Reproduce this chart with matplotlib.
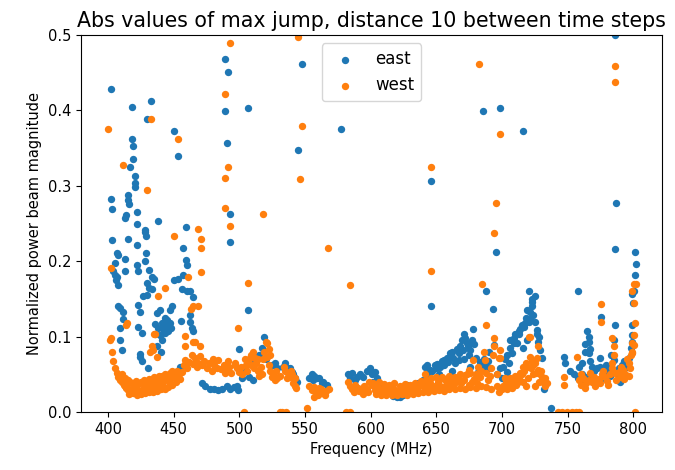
import matplotlib
matplotlib.use("Agg")
import matplotlib.pyplot as plt

# Max-jump magnitude per frequency channel (MHz, normalized), east polarisation
east_freq = [
    402.0, 432.8, 418.0, 429.5, 450.5, 418.0, 419.3, 453.6, 419.3, 416.8, 420.6, 420.6, 420.6,
    402.3, 415.5, 415.5, 416.0, 403.3, 421.8, 413.0, 414.0, 421.8, 437.8, 428.2, 459.2, 402.8,
    415.0, 428.2, 428.7, 421.8, 457.4, 406.6, 407.9, 429.0, 428.2, 413.0, 421.8, 459.4, 460.0,
    405.3, 404.0, 405.5, 407.0, 406.0, 413.0, 423.0, 431.2, 433.8, 434.8, 457.4, 450.5, 453.6,
    407.9, 429.5, 431.2, 433.3, 456.2, 460.0, 426.9, 429.5, 465.0, 462.5, 407.4, 409.1, 423.0,
    448.5, 447.2, 411.7, 424.4, 437.1, 439.6, 462.5, 411.7, 435.8, 440.9, 444.7, 447.2, 455.6,
    462.5, 409.1, 423.0, 425.7, 463.8, 465.0, 435.8, 439.6, 441.4, 409.1, 410.4, 437.1, 440.4,
    424.4, 453.6, 442.0, 438.0, 443.0, 445.0, 446.0, 443.0, 448.0, 424.4, 425.7, 430.7, 454.9,
    471.4, 474.0, 477.7, 481.0, 484.0, 487.0, 490.4, 493.0, 496.0, 498.0, 499.3, 489.1, 491.7,
    489.1, 506.4, 490.4, 493.0, 493.0, 506.4, 499.8, 519.1, 507.0, 510.7, 509.0, 512.0, 524.7,
    528.5, 537.4, 540.0, 538.7, 541.2,
    545.0, 547.6, 556.4, 559.0, 562.8, 564.0, 566.6, 577.5, 584.4, 588.2, 589.5, 594.5, 599.6,
    600.9, 603.4, 605.0, 602.0, 606.0, 610.0, 617.0, 619.9, 622.0, 625.0, 628.0, 632.0, 636.0,
    640.0,
    641.5, 642.8, 645.3, 645.9, 645.9, 649.1, 650.4, 654.2, 655.5, 658.0, 660.6, 661.8, 665.7,
    666.9, 668.2, 669.5, 670.7, 672.0, 673.3, 674.6, 675.8, 678.3, 682.1, 684.7, 685.2, 687.2,
    688.0, 689.7, 692.8, 694.3, 695.6, 698.2, 698.2, 652.0, 662.0,
    703.8, 705.0, 707.6, 708.8, 710.1, 706.3, 711.4, 712.6, 715.7, 716.4, 717.7, 720.2, 720.2,
    721.5, 721.5, 722.8, 722.8, 724.0, 725.3, 726.6, 726.6, 727.8, 729.1, 730.4, 731.7, 737.5,
    700.0, 714.0,
    747.0, 747.7, 757.9, 760.8, 763.4, 764.7, 764.7, 765.9, 765.9, 767.2, 767.2, 768.5, 774.8,
    774.8, 775.6, 785.0, 785.0, 785.8, 785.8, 787.0, 786.0, 790.0, 791.4, 795.2, 799.0, 799.5,
    799.0, 799.0, 799.0, 800.3, 801.5, 802.0, 801.5, 752.0, 755.0, 770.0, 780.0, 758.0, 762.0,
    778.0, 782.0, 788.0, 792.0,
]
east_mag = [
    0.428, 0.412, 0.405, 0.389, 0.373, 0.362, 0.353, 0.339, 0.336, 0.325, 0.313, 0.304, 0.298,
    0.283, 0.288, 0.281, 0.276, 0.269, 0.265, 0.258, 0.261, 0.249, 0.254, 0.241, 0.245, 0.228,
    0.229, 0.239, 0.233, 0.221, 0.218, 0.211, 0.208, 0.211, 0.200, 0.203, 0.195, 0.202, 0.195,
    0.197, 0.187, 0.182, 0.179, 0.175, 0.187, 0.187, 0.188, 0.179, 0.176, 0.182, 0.175, 0.176,
    0.168, 0.171, 0.165, 0.163, 0.163, 0.161, 0.154, 0.155, 0.153, 0.160, 0.141, 0.138, 0.142,
    0.140, 0.135, 0.133, 0.133, 0.131, 0.135, 0.129, 0.123, 0.117, 0.118, 0.122, 0.118, 0.121,
    0.120, 0.112, 0.113, 0.105, 0.111, 0.107, 0.104, 0.102, 0.095, 0.095, 0.082, 0.087, 0.080,
    0.077, 0.049, 0.110, 0.112, 0.125, 0.115, 0.108, 0.105, 0.112, 0.073, 0.067, 0.058, 0.060,
    0.038, 0.035, 0.031, 0.030, 0.029, 0.031, 0.034, 0.030, 0.033, 0.034, 0.029, 0.468, 0.451,
    0.399, 0.403, 0.357, 0.262, 0.225, 0.135, 0.083, 0.099, 0.047, 0.042, 0.072, 0.068, 0.062,
    0.058, 0.058, 0.053, 0.058, 0.051,
    0.348, 0.461, 0.042, 0.045, 0.038, 0.040, 0.036, 0.375, 0.045, 0.042, 0.047, 0.047, 0.059,
    0.051, 0.053, 0.045, 0.040, 0.038, 0.036, 0.021, 0.020, 0.020, 0.022, 0.036, 0.034, 0.038,
    0.042,
    0.060, 0.062, 0.056, 0.140, 0.306, 0.062, 0.064, 0.067, 0.069, 0.071, 0.078, 0.080, 0.084,
    0.069, 0.087, 0.095, 0.104, 0.098, 0.091, 0.076, 0.060, 0.110, 0.053, 0.058, 0.399, 0.061,
    0.161, 0.067, 0.137, 0.089, 0.212, 0.058, 0.403, 0.050, 0.055,
    0.053, 0.065, 0.078, 0.091, 0.104, 0.095, 0.091, 0.104, 0.373, 0.113, 0.118, 0.120, 0.161,
    0.124, 0.133, 0.140, 0.146, 0.129, 0.154, 0.109, 0.104, 0.093, 0.082, 0.071, 0.031, 0.005,
    0.045, 0.110,
    0.073, 0.065, 0.161, 0.051, 0.080, 0.107, 0.047, 0.093, 0.078, 0.084, 0.067, 0.060, 0.071,
    0.060, 0.126, 0.095, 0.069, 0.115, 0.216, 0.277, 0.500, 0.040, 0.062, 0.060, 0.157, 0.144,
    0.093, 0.115, 0.102, 0.161, 0.212, 0.196, 0.182, 0.055, 0.050, 0.055, 0.055, 0.045, 0.040,
    0.045, 0.048, 0.050, 0.045,
]

# East channels in the densely populated low-magnitude floor
east_floor_freq = [
    502.0, 505.0, 515.0, 517.0, 520.0, 527.0, 533.0, 535.0, 542.0, 544.0,
    553.0, 555.0, 557.0, 561.0, 583.0, 586.0, 592.0, 597.0, 600.0,
    644.0, 647.0, 650.0, 653.0, 656.0, 659.0, 663.0, 664.0, 667.0, 670.0, 671.0, 674.0, 676.0,
    677.0, 679.0, 680.0, 683.0, 686.0, 690.0, 691.0, 696.0,
    701.0, 702.0, 704.0, 706.0, 709.0, 713.0, 715.0, 718.0, 719.0, 723.0, 725.0, 728.0, 719.0,
    716.0,
    759.0, 761.0, 763.0, 766.0, 772.0, 779.0, 783.0, 789.0, 793.0, 797.0, 798.0,
]
east_floor_mag = [
    0.045, 0.055, 0.075, 0.085, 0.070, 0.065, 0.060, 0.065, 0.045, 0.040,
    0.045, 0.050, 0.048, 0.045, 0.050, 0.052, 0.050, 0.055, 0.055,
    0.050, 0.055, 0.058, 0.060, 0.062, 0.066, 0.072, 0.065, 0.078, 0.082, 0.070, 0.088, 0.082,
    0.095, 0.090, 0.072, 0.066, 0.070, 0.080, 0.058, 0.050,
    0.060, 0.070, 0.075, 0.085, 0.098, 0.108, 0.115, 0.125, 0.135, 0.150, 0.120, 0.100, 0.095,
    0.085,
    0.060, 0.065, 0.090, 0.100, 0.058, 0.062, 0.075, 0.058, 0.068, 0.072, 0.085,
]

# Same quantity for the west polarisation
west_freq = [
    493.0, 489.1, 432.8, 400.3, 453.6, 411.2, 491.7, 489.1, 429.5, 489.1, 518.3, 493.0, 468.3,
    450.5, 470.9, 470.9, 402.3, 470.9, 460.7, 443.4, 506.4, 437.8, 463.2, 468.3, 413.5, 499.3,
    458.7, 435.3, 402.3, 403.3, 401.5, 521.0, 465.0, 470.1, 433.8, 432.3, 458.7, 466.3, 465.0,
    435.8, 434.5, 437.1, 414.2,
    404.0, 405.3, 406.5, 407.9, 409.0, 410.4, 412.0, 413.0, 414.0, 415.5, 417.0, 418.5, 420.6,
    422.0, 423.5, 425.7, 427.0, 428.5, 430.7, 432.0, 433.5, 435.8, 437.0, 438.5, 440.9, 442.0,
    443.5, 446.0, 447.5, 449.0, 451.0, 452.5, 454.0, 456.2, 457.5, 458.7, 460.0, 461.5, 463.8,
    465.0, 466.5, 468.0, 468.8, 470.0, 471.5, 473.0, 475.0, 477.0, 479.0, 481.0, 484.0, 486.0,
    488.0, 490.0, 492.0, 494.0, 496.8, 498.5, 500.0, 501.3, 416.0, 421.0, 426.0, 431.0, 436.0,
    441.0, 480.0, 483.0, 489.0, 491.0, 497.0,
    503.8, 505.0, 507.0, 508.5, 510.7, 512.0, 513.0, 514.3, 515.0, 516.5, 518.0, 520.2, 522.2,
    521.0, 522.2, 523.5, 524.7, 527.2, 529.0, 531.0, 532.3, 535.6, 535.0, 537.0, 538.7, 540.0,
    541.2, 542.0, 543.5,
    545.0, 547.6, 546.3, 551.4, 555.1, 556.5, 558.0, 560.2, 562.0, 564.0, 566.0, 567.4, 581.3,
    584.4, 584.4, 584.4, 586.0, 588.0, 590.0, 593.3, 595.0, 597.0, 600.9, 599.0,
    603.0, 605.0, 607.0, 609.0, 611.0, 613.0, 615.0, 617.0, 619.0, 621.0, 623.0, 625.0, 627.0,
    629.0, 631.0, 633.0, 635.0, 637.0, 639.0, 641.5, 641.0, 643.0, 645.0, 645.9, 645.9, 647.0,
    649.0, 651.0, 653.0, 654.2, 655.0, 657.0, 659.0, 661.0, 663.0, 665.0, 667.0, 669.0, 671.0,
    673.3, 674.6, 675.0, 677.0, 678.3, 679.0, 681.0, 682.1, 682.7, 683.0, 685.0, 686.0, 687.2,
    687.8, 689.0, 691.0, 692.8, 693.6, 693.6, 694.3, 695.6, 696.0, 697.4, 698.2, 698.7, 698.7,
    700.0,
    701.0, 703.0, 705.0, 707.0, 709.0, 711.0, 713.0, 715.0, 717.0, 719.0, 720.2, 721.5, 721.5,
    722.8, 724.0, 725.3, 726.6, 727.8, 727.8, 729.0, 730.4, 731.5, 732.5, 716.0, 720.0, 724.0,
    728.0,
    743.0, 746.0, 749.5, 753.0, 756.0, 758.3, 747.0, 747.0, 757.2, 758.3, 760.0, 762.0, 764.0,
    766.0, 768.5, 770.0, 772.0, 774.0, 775.6, 775.6, 776.0, 778.7, 780.0, 782.0, 783.8, 783.8,
    785.0, 785.0, 785.8, 785.8, 786.0, 788.9, 790.0, 792.0, 794.0, 796.6, 797.5, 799.0, 799.0,
    799.0, 799.0, 800.3, 800.3, 800.3, 800.3, 801.5, 802.0, 801.5,
]
west_mag = [
    0.489, 0.422, 0.389, 0.376, 0.362, 0.327, 0.325, 0.311, 0.294, 0.271, 0.262, 0.247, 0.243,
    0.233, 0.230, 0.217, 0.191, 0.186, 0.179, 0.165, 0.171, 0.154, 0.137, 0.140, 0.115, 0.112,
    0.101, 0.103, 0.098, 0.080, 0.095, 0.091, 0.093, 0.087, 0.087, 0.080, 0.088, 0.093, 0.140,
    0.104, 0.082, 0.073, 0.118,
    0.067, 0.058, 0.052, 0.047, 0.043, 0.040, 0.036, 0.034, 0.032, 0.029, 0.028, 0.030, 0.027,
    0.030, 0.026, 0.029, 0.033, 0.028, 0.031, 0.035, 0.030, 0.036, 0.032, 0.038, 0.040, 0.035,
    0.043, 0.042, 0.038, 0.046, 0.047, 0.055, 0.050, 0.053, 0.062, 0.069, 0.058, 0.066, 0.076,
    0.064, 0.071, 0.060, 0.065, 0.074, 0.062, 0.068, 0.058, 0.065, 0.055, 0.062, 0.069, 0.057,
    0.063, 0.055, 0.060, 0.052, 0.065, 0.058, 0.053, 0.060, 0.038, 0.036, 0.040, 0.042, 0.045,
    0.048, 0.070, 0.058, 0.052, 0.068, 0.062,
    0.000, 0.062, 0.070, 0.075, 0.080, 0.072, 0.065, 0.055, 0.048, 0.060, 0.070, 0.093, 0.084,
    0.073, 0.062, 0.055, 0.047, 0.042, 0.045, 0.000, 0.000, 0.000, 0.055, 0.052, 0.047, 0.050,
    0.038, 0.034, 0.032,
    0.498, 0.379, 0.309, 0.005, 0.029, 0.033, 0.027, 0.023, 0.030, 0.025, 0.028, 0.218, 0.000,
    0.000, 0.168, 0.034, 0.030, 0.036, 0.032, 0.031, 0.035, 0.030, 0.036, 0.040,
    0.029, 0.034, 0.031, 0.027, 0.033, 0.029, 0.027, 0.032, 0.028, 0.026, 0.031, 0.028, 0.033,
    0.029, 0.027, 0.032, 0.030, 0.034, 0.036, 0.051, 0.030, 0.034, 0.038, 0.187, 0.325, 0.031,
    0.034, 0.040, 0.035, 0.047, 0.032, 0.036, 0.038, 0.042, 0.035, 0.040, 0.044, 0.038, 0.042,
    0.051, 0.056, 0.036, 0.040, 0.069, 0.044, 0.038, 0.060, 0.461, 0.046, 0.170, 0.080, 0.069,
    0.115, 0.042, 0.048, 0.076, 0.238, 0.088, 0.098, 0.277, 0.035, 0.071, 0.369, 0.082, 0.071,
    0.030,
    0.035, 0.040, 0.034, 0.038, 0.042, 0.036, 0.045, 0.050, 0.055, 0.060, 0.099, 0.073, 0.100,
    0.068, 0.062, 0.065, 0.071, 0.087, 0.056, 0.050, 0.047, 0.040, 0.035, 0.040, 0.045, 0.050,
    0.040,
    0.000, 0.000, 0.000, 0.000, 0.000, 0.000, 0.047, 0.036, 0.073, 0.042, 0.036, 0.045, 0.038,
    0.043, 0.040, 0.046, 0.038, 0.044, 0.143, 0.120, 0.050, 0.047, 0.041, 0.050, 0.065, 0.098,
    0.087, 0.076, 0.459, 0.438, 0.052, 0.053, 0.046, 0.056, 0.050, 0.065, 0.058, 0.078, 0.080,
    0.091, 0.161, 0.170, 0.145, 0.102, 0.089, 0.118, 0.170, 0.000,
]

# West channels in the densely populated low-magnitude floor
west_floor_freq = [
    411.0, 413.0, 415.0, 417.0, 419.0, 421.0, 423.0, 425.0, 427.0, 429.0, 431.0, 433.0, 435.0,
    437.0, 439.0, 441.0, 443.0, 445.0, 447.0, 449.0,
    416.0, 419.0, 422.0, 425.0, 428.0, 431.0, 434.0, 437.0, 440.0, 443.0, 446.0, 449.0, 452.0,
    455.0,
    502.0, 504.0, 506.0, 509.0, 511.0, 514.0, 517.0, 519.0, 523.0, 526.0, 528.0, 531.0, 534.0,
    536.0, 539.0, 542.0,
    553.0, 557.0, 561.0, 565.0, 568.0, 583.0, 587.0, 591.0, 594.0, 598.0,
    602.0, 606.0, 610.0, 614.0, 618.0, 622.0, 626.0, 630.0, 634.0, 638.0, 642.0, 646.0, 650.0,
    656.0, 660.0, 664.0, 668.0, 672.0, 676.0, 680.0, 684.0, 688.0, 692.0, 696.0,
    604.0, 608.0, 612.0, 616.0, 620.0, 624.0, 628.0, 632.0, 636.0, 640.0, 644.0, 648.0, 652.0,
    656.0, 660.0, 664.0, 668.0, 672.0, 676.0, 680.0, 684.0, 688.0, 692.0, 698.0,
    702.0, 704.0, 706.0, 708.0, 710.0, 712.0, 714.0, 716.0, 718.0, 722.0, 726.0, 730.0, 733.0,
    734.0, 718.0, 725.0,
    760.0, 763.0, 767.0, 771.0, 775.0, 777.0, 781.0, 784.0, 787.0, 791.0, 793.0, 795.0, 797.0,
    798.0,
]
west_floor_mag = [
    0.050, 0.045, 0.042, 0.040, 0.038, 0.041, 0.037, 0.040, 0.043, 0.039, 0.044, 0.041, 0.046,
    0.043, 0.048, 0.046, 0.050, 0.048, 0.052, 0.055,
    0.024, 0.025, 0.023, 0.024, 0.025, 0.026, 0.027, 0.028, 0.030, 0.031, 0.033, 0.036, 0.040,
    0.044,
    0.050, 0.070, 0.055, 0.062, 0.058, 0.070, 0.050, 0.080, 0.075, 0.050, 0.055, 0.048, 0.060,
    0.045, 0.055, 0.045,
    0.035, 0.020, 0.032, 0.022, 0.030, 0.040, 0.026, 0.028, 0.024, 0.026,
    0.038, 0.040, 0.037, 0.036, 0.038, 0.035, 0.037, 0.036, 0.039, 0.041, 0.043, 0.045, 0.046,
    0.044, 0.048, 0.047, 0.050, 0.049, 0.052, 0.050, 0.055, 0.052, 0.058, 0.050,
    0.024, 0.023, 0.022, 0.023, 0.022, 0.024, 0.023, 0.024, 0.025, 0.026, 0.027, 0.028, 0.029,
    0.028, 0.030, 0.031, 0.032, 0.031, 0.033, 0.032, 0.034, 0.033, 0.030, 0.026,
    0.045, 0.030, 0.045, 0.032, 0.048, 0.040, 0.052, 0.060, 0.065, 0.058, 0.052, 0.055, 0.045,
    0.038, 0.035, 0.035,
    0.050, 0.032, 0.052, 0.034, 0.038, 0.055, 0.036, 0.058, 0.042, 0.060, 0.044, 0.070, 0.048,
    0.075,
]

xticks = [400, 450, 500, 550, 600, 650, 700, 750, 800]
yticks = [0.0, 0.1, 0.2, 0.3, 0.4, 0.5]

fig = plt.figure(figsize=(6.75, 4.7), dpi=100)
ax = fig.add_axes([0.12, 0.1234, 0.861, 0.802])

ax.scatter(east_freq + east_floor_freq, east_mag + east_floor_mag,
           s=28, color="#1f77b4", label="east", linewidths=0)
ax.scatter(west_freq + west_floor_freq, west_mag + west_floor_mag,
           s=28, color="#ff7f0e", label="west", linewidths=0)

ax.set_xlim(379.4, 822.0)
ax.set_ylim(0.0, 0.5)
ax.set_xticks(xticks)
ax.set_yticks(yticks)
ax.set_yticklabels([f"{t:.1f}" for t in yticks])
ax.tick_params(labelsize=10.5)

ax.set_title("Abs values of max jump, distance 10 between time steps", fontsize=14.8)
ax.set_xlabel("Frequency (MHz)", fontsize=10.5)
ax.set_ylabel("Normalized power beam magnitude", fontsize=10.5)
ax.legend(loc="upper center", fontsize=12)

fig.savefig("out.png", dpi=100)
